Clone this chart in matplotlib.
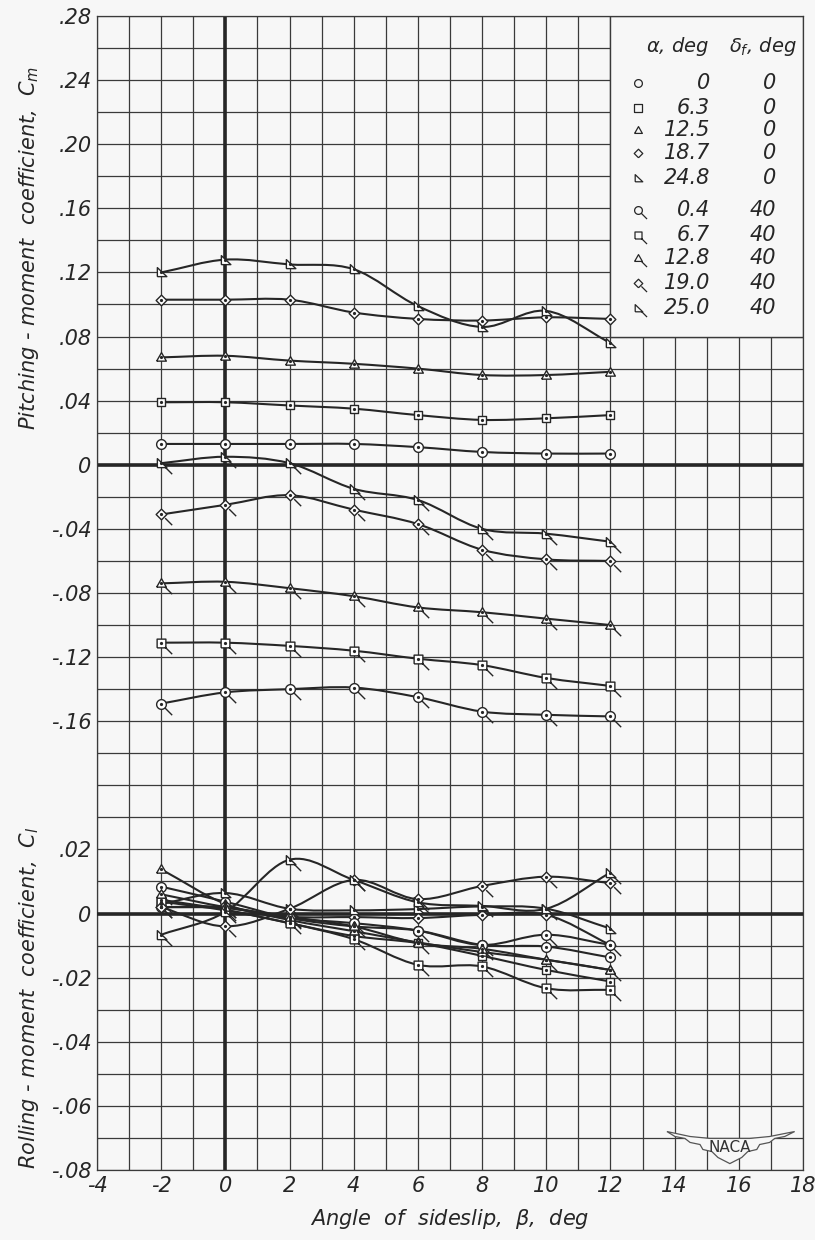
import numpy as np
import matplotlib
matplotlib.use("Agg")
import matplotlib.pyplot as plt
from matplotlib.path import Path
from matplotlib.patches import PathPatch, Rectangle, Polygon

plt.rcParams['font.family'] = ['DejaVu Sans']
plt.rcParams['font.style'] = 'italic'
plt.rcParams['mathtext.fontset'] = 'dejavusans'

INK = '#262626'
PAPER = '#f7f7f7'

beta = [-2, 0, 2, 4, 6, 8, 10, 12]

alpha_labels = ['0', '6.3', '12.5', '18.7', '24.8', '0.4', '6.7', '12.8', '19.0', '25.0']
flap_labels = ['0', '0', '0', '0', '0', '40', '40', '40', '40', '40']

# pitching-moment coefficient, Cm
cm = [
    [0.013, 0.013, 0.013, 0.013, 0.011, 0.008, 0.007, 0.007],
    [0.039, 0.039, 0.037, 0.035, 0.031, 0.028, 0.029, 0.031],
    [0.067, 0.068, 0.065, 0.063, 0.060, 0.056, 0.056, 0.058],
    [0.103, 0.103, 0.103, 0.095, 0.091, 0.090, 0.092, 0.091],
    [0.120, 0.128, 0.125, 0.122, 0.099, 0.086, 0.096, 0.076],
    [-0.149, -0.142, -0.140, -0.139, -0.145, -0.154, -0.156, -0.157],
    [-0.111, -0.111, -0.113, -0.116, -0.121, -0.125, -0.133, -0.138],
    [-0.074, -0.073, -0.077, -0.082, -0.089, -0.092, -0.096, -0.100],
    [-0.031, -0.025, -0.019, -0.028, -0.037, -0.053, -0.059, -0.060],
    [0.001, 0.005, 0.001, -0.015, -0.022, -0.040, -0.043, -0.048],
]

# rolling-moment coefficient, Cl
cl = [
    [0.0084, 0.0037, -0.0014, -0.0040, -0.0053, -0.0098, -0.0103, -0.0137],
    [0.0043, 0.0012, -0.0030, -0.0070, -0.0092, -0.0132, -0.0176, -0.0212],
    [0.0138, 0.0030, -0.0020, -0.0055, -0.0090, -0.0120, -0.0144, -0.0176],
    [0.0020, 0.0017, -0.0010, -0.0011, -0.0014, -0.0004, -0.0004, -0.0098],
    [0.0030, 0.0064, 0.0015, 0.0010, 0.0014, 0.0022, 0.0015, -0.0047],
    [0.0020, 0.0020, -0.0014, -0.0030, -0.0053, -0.0098, -0.0066, -0.0098],
    [0.0037, 0.0010, -0.0030, -0.0080, -0.0160, -0.0165, -0.0233, -0.0238],
    [0.0060, 0.0020, -0.0010, -0.0040, -0.0092, -0.0110, -0.0144, -0.0176],
    [0.0020, -0.0040, 0.0015, 0.0105, 0.0045, 0.0086, 0.0115, 0.0095],
    [-0.0066, 0.0005, 0.0168, 0.0105, 0.0035, 0.0024, 0.0015, 0.0128],
]

SHAPES = {
    'o': [(np.cos(t), np.sin(t)) for t in np.linspace(0, 2 * np.pi, 33)],
    's': [(-0.9, -0.9), (0.9, -0.9), (0.9, 0.9), (-0.9, 0.9), (-0.9, -0.9)],
    '^': [(-1, -0.75), (1, -0.75), (0, 1), (-1, -0.75)],
    'D': [(0, -1.1), (1.1, 0), (0, 1.1), (-1.1, 0), (0, -1.1)],
    'rt': [(-0.85, -0.85), (-0.85, 1.0), (1.1, -0.85), (-0.85, -0.85)],
}


def make_marker(name, flag, size):
    # ms is scaled so the symbol itself keeps one size with or without the flag
    pts = SHAPES[name]
    verts = list(pts)
    codes = [Path.MOVETO] + [Path.LINETO] * (len(pts) - 1)
    if flag:
        verts += [(0.75, -0.75), (2.2, -2.2)]
        codes += [Path.MOVETO, Path.LINETO]
        ms = size * 2.2
    else:
        ms = size * max(max(abs(a), abs(b)) for a, b in pts)
    return Path(verts, codes), ms


kinds = ['o', 's', '^', 'D', 'rt']
markers = []
for flag in (False, True):
    for name in kinds:
        markers.append(make_marker(name, flag, 7.0))


def faired(axis, xs, ys, lw=1.5):
    # smooth curve through the points (Catmull-Rom as cubic Bezier)
    xs = np.asarray(xs, float)
    ys = np.asarray(ys, float)
    n = len(xs)
    m = np.empty(n)
    m[1:-1] = (ys[2:] - ys[:-2]) / (xs[2:] - xs[:-2])
    m[0] = (ys[1] - ys[0]) / (xs[1] - xs[0])
    m[-1] = (ys[-1] - ys[-2]) / (xs[-1] - xs[-2])
    verts = [(xs[0], ys[0])]
    codes = [Path.MOVETO]
    for i in range(n - 1):
        h = (xs[i + 1] - xs[i]) / 3
        verts += [(xs[i] + h, ys[i] + m[i] * h),
                  (xs[i + 1] - h, ys[i + 1] - m[i + 1] * h),
                  (xs[i + 1], ys[i + 1])]
        codes += [Path.CURVE4] * 3
    axis.add_patch(PathPatch(Path(verts, codes), fill=False, lw=lw,
                             edgecolor=INK, zorder=3))


def fmt(v):
    return '0' if abs(v) < 1e-9 else ('%.2f' % v).replace('0.', '.')


fig = plt.figure(figsize=(8.15, 12.4), dpi=100, facecolor=PAPER)
ax = fig.add_axes([97 / 815, 70 / 1240, 706 / 815, 1154 / 1240])
ax.set_facecolor(PAPER)
ax.set_xlim(-4, 18)
ax.set_ylim(-0.44, 0.28)

ax.set_xticks(np.arange(-4, 19, 2))
ax.set_xticks(np.arange(-3, 18, 2), minor=True)
yt = np.arange(-0.16, 0.281, 0.04)
ax.set_yticks(yt)
ax.set_yticks([v for v in np.arange(-0.44, 0.281, 0.02)
               if np.min(np.abs(yt - v)) > 1e-6], minor=True)
ax.set_xticklabels([str(v) for v in range(-4, 19, 2)])
ax.set_yticklabels([fmt(v) for v in yt])
ax.tick_params(which='both', length=0, labelsize=15, colors=INK, pad=4)
ax.grid(which='both', color='#3a3a3a', lw=0.9)
ax.set_axisbelow(True)
for s in ax.spines.values():
    s.set_color('#3a3a3a')
    s.set_linewidth(0.9)

ax2 = ax.twinx()
ax2.set_ylim(-0.08, 0.28)
ax2.yaxis.tick_left()
rt = np.arange(-0.08, 0.021, 0.02)
ax2.set_yticks(rt)
ax2.set_yticklabels([fmt(v) for v in rt])
ax2.tick_params(length=0, labelsize=15, colors=INK, pad=4)
for s in ax2.spines.values():
    s.set_visible(False)

# heavy reference lines
ax.axvline(0, color=INK, lw=2.6, zorder=1.2)
ax.axhline(0, color=INK, lw=2.6, zorder=1.2)
ax2.axhline(0, color=INK, lw=2.6, zorder=1.2)

# key box
ax.add_patch(Rectangle((12, 0.08), 6, 0.20, facecolor=PAPER, edgecolor='#3a3a3a',
                       lw=1.0, zorder=1.5))

for k in range(10):
    mk, ms = markers[k]
    faired(ax, beta, cm[k])
    ax.plot(beta, cm[k], ls='none', marker=mk, ms=ms, mfc='white',
            mec=INK, mew=1.0, zorder=4)
    ax.plot(beta, cm[k], ls='none', marker='o', ms=1.3, color=INK, zorder=5)
    faired(ax2, beta, cl[k])
    ax2.plot(beta, cl[k], ls='none', marker=mk, ms=ms, mfc='white',
             mec=INK, mew=1.0, zorder=4)
    ax2.plot(beta, cl[k], ls='none', marker='o', ms=1.3, color=INK, zorder=5)

# key entries
rows = [0.238, 0.2226, 0.2089, 0.1945, 0.179, 0.159, 0.1434, 0.129, 0.1134, 0.0978]
ax.text(14.1, 0.2607, r'$\alpha$, deg', fontsize=14, ha='center', va='center', color=INK)
ax.text(16.75, 0.2607, r'$\delta_f$, deg', fontsize=14, ha='center', va='center', color=INK)
for k in range(10):
    mk, ms = markers[k]
    ax.plot([12.85], [rows[k]], ls='none', marker=mk, ms=ms * 0.8,
            mfc=PAPER, mec=INK, mew=0.9, zorder=4, clip_on=False)
    ax.text(15.1, rows[k], alpha_labels[k], fontsize=15, ha='right', va='center', color=INK)
    ax.text(17.15, rows[k], flap_labels[k], fontsize=15, ha='right', va='center', color=INK)

ax.set_xlabel(r'Angle  of  sideslip,  $\beta$,  deg', fontsize=15, color=INK, labelpad=8)
fig.text(0.036, 0.80, r'Pitching - moment  coefficient,  $C_m$', rotation=90,
         fontsize=15, ha='center', va='center', color=INK)
fig.text(0.036, 0.195, r'Rolling - moment  coefficient,  $C_l$', rotation=90,
         fontsize=15, ha='center', va='center', color=INK)

# NACA wings
wing = [(13.76, -0.4160), (14.48, -0.4191), (15.10, -0.4203), (15.72, -0.4203),
        (16.34, -0.4203), (16.96, -0.4191), (17.74, -0.4160),
        (17.43, -0.4191), (17.12, -0.4203), (16.96, -0.4228), (16.65, -0.4241),
        (16.56, -0.4272), (16.28, -0.4285), (16.09, -0.4322), (15.72, -0.4360),
        (15.35, -0.4322), (15.16, -0.4285), (14.88, -0.4272), (14.79, -0.4241),
        (14.48, -0.4228), (14.32, -0.4203), (14.01, -0.4191)]
ax.add_patch(Polygon(wing, closed=True, facecolor=PAPER, edgecolor='#555555', lw=0.9, zorder=5))
ax.text(15.72, -0.4262, 'NACA', fontsize=11, style='normal', ha='center', va='center',
        color='#333333', zorder=6)

fig.savefig('out.png', dpi=100, facecolor=PAPER)
